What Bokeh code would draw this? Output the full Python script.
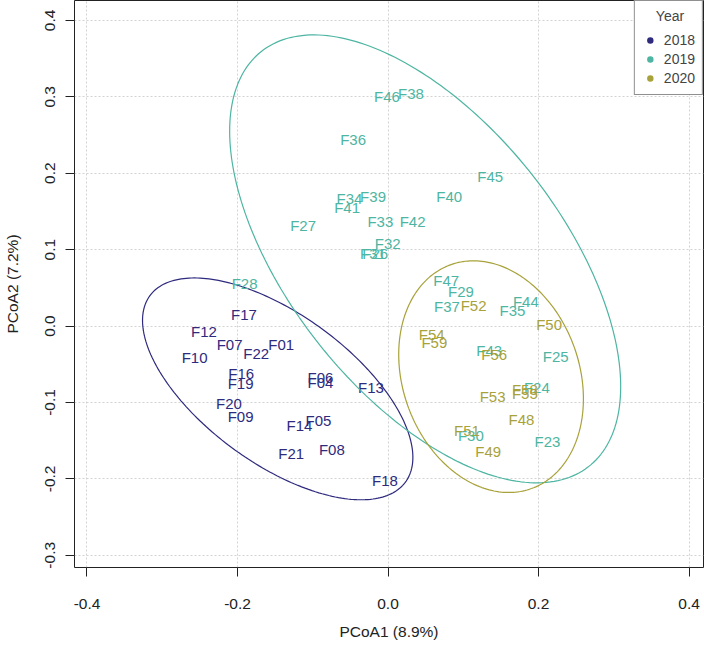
import numpy as np
from bokeh.plotting import figure
from bokeh.models import ColumnDataSource, Legend, LegendItem, Range1d, FixedTicker, PrintfTickFormatter
from bokeh.core.properties import value
from bokeh.embed import file_html
from bokeh.resources import INLINE

# ---- data (PCoA scores) ----
names_2018 = ["F17", "F12", "F07", "F22", "F01", "F10", "F16", "F19", "F06", "F04",
              "F13", "F20", "F09", "F14", "F05", "F21", "F08", "F18"]
x_2018 = [-0.1915, -0.2446, -0.2105, -0.1751, -0.1420, -0.2570, -0.1950, -0.1959, -0.0898, -0.0898,
          -0.0226, -0.2114, -0.1959, -0.1177, -0.0925, -0.1287, -0.0747, -0.0040]
y_2018 = [0.0153, -0.0074, -0.0239, -0.0361, -0.0239, -0.0413, -0.0622, -0.0753, -0.0674, -0.0744,
          -0.0805, -0.1014, -0.1179, -0.1301, -0.1240, -0.1667, -0.1615, -0.2015]

names_2019 = ["F28", "F46", "F38", "F36", "F45", "F34", "F39", "F41", "F40", "F27",
              "F33", "F42", "F32", "F31", "F26", "F47", "F29", "F37", "F44", "F35",
              "F43", "F25", "F24", "F30", "F23"]
x_2019 = [-0.1906, -0.0013, 0.0305, -0.0464, 0.1357, -0.0513, -0.0199, -0.0544, 0.0814, -0.1128,
          -0.0102, 0.0327, -0.0004, -0.0200, -0.0170, 0.0774, 0.0969, 0.0783, 0.1831, 0.1654,
          0.1344, 0.2229, 0.1977, 0.1101, 0.2119]
y_2019 = [0.0557, 0.2998, 0.3042, 0.2437, 0.1954, 0.1675, 0.1693, 0.1553, 0.1693, 0.1319,
          0.1362, 0.1371, 0.1075, 0.0950, 0.0945, 0.0596, 0.0448, 0.0261, 0.0317, 0.0205,
          -0.0318, -0.0405, -0.0805, -0.1436, -0.1514]

names_2020 = ["F52", "F50", "F54", "F59", "F56", "F58", "F55", "F53", "F48", "F51", "F49"]
x_2020 = [0.1137, 0.2140, 0.0580, 0.0615, 0.1411, 0.1818, 0.1818, 0.1389, 0.1774, 0.1048, 0.1331]
y_2020 = [0.0270, 0.0022, -0.0109, -0.0218, -0.0379, -0.0835, -0.0884, -0.0927, -0.1218, -0.1362, -0.1645]

years = ["2018", "2019", "2020"]
colors = ["#2E2A7E", "#4DB5A2", "#A8A23A"]

x_ticks = [-0.4, -0.2, 0.0, 0.2, 0.4]
y_ticks = [-0.3, -0.2, -0.1, 0.0, 0.1, 0.2, 0.3, 0.4]

groups = {
    "2018": (names_2018, x_2018, y_2018),
    "2019": (names_2019, x_2019, y_2019),
    "2020": (names_2020, x_2020, y_2020),
}


def sd_ellipse(xs, ys, conf=0.95, n=240):
    """Covariance ellipse (like vegan::ordiellipse kind='sd')."""
    xs = np.asarray(xs, float)
    ys = np.asarray(ys, float)
    cov = np.cov(xs, ys)
    vals, vecs = np.linalg.eigh(cov)
    scale = np.sqrt(-2.0 * np.log(1.0 - conf))  # sqrt(qchisq(conf, 2))
    t = np.linspace(0, 2 * np.pi, n)
    circ = np.vstack([np.cos(t), np.sin(t)])
    pts = vecs @ (np.sqrt(vals)[:, None] * circ) * scale
    return pts[0] + xs.mean(), pts[1] + ys.mean()


FONT = "Liberation Sans"

p = figure(width=704, height=650, output_backend="svg", toolbar_location=None,
           x_range=Range1d(-0.4166, 0.4192), y_range=Range1d(-0.316, 0.426),
           min_border_left=73, min_border_right=1, min_border_top=0, min_border_bottom=83,
           x_axis_label="PCoA1 (8.9%)", y_axis_label="PCoA2 (7.2%)")

p.background_fill_color = "white"
p.border_fill_color = "white"
p.outline_line_color = "#222222"
p.outline_line_width = 1

for ax in (p.xaxis[0], p.yaxis[0]):
    ax.axis_line_color = None
    ax.major_tick_line_color = "#222222"
    ax.major_tick_out = 9
    ax.major_tick_in = 0
    ax.minor_tick_line_color = None
    ax.formatter = PrintfTickFormatter(format="%.1f")
    ax.major_label_text_font = FONT
    ax.major_label_text_font_size = "15.5px"
    ax.major_label_text_color = "#222222"
    ax.axis_label_text_font = FONT
    ax.axis_label_text_font_size = "15.5px"
    ax.axis_label_text_font_style = "normal"
    ax.axis_label_text_color = "#222222"

p.xaxis[0].ticker = FixedTicker(ticks=x_ticks)
p.yaxis[0].ticker = FixedTicker(ticks=y_ticks)
p.xaxis[0].major_label_standoff = 22
p.xaxis[0].axis_label_standoff = 11
p.yaxis[0].major_label_standoff = 10
p.yaxis[0].axis_label_standoff = 22
p.yaxis[0].major_label_orientation = "vertical"

for g in (p.xgrid[0], p.ygrid[0]):
    g.grid_line_color = "#D3D3D3"
    g.grid_line_dash = "2 2"
    g.grid_line_width = 1
p.xgrid[0].ticker = FixedTicker(ticks=x_ticks)
p.ygrid[0].ticker = FixedTicker(ticks=y_ticks)

legend_items = []
for year, col in zip(years, colors):
    names, xs, ys = groups[year]
    ex, ey = sd_ellipse(xs, ys)
    p.line(ex, ey, line_color=col, line_width=1.2)
    src = ColumnDataSource(dict(x=xs, y=ys, name=names))
    p.text(x="x", y="y", text="name", source=src, text_color=col,
           text_font=value(FONT), text_font_size="15px",
           text_align="center", text_baseline="middle")
    # zero-size markers at the points: invisible in the plot, give the legend its dot
    dots = p.scatter(x="x", y="y", source=src, size=0, fill_color=col,
                     line_color=None, marker="circle")
    legend_items.append(LegendItem(label=year, renderers=[dots]))

legend = Legend(items=legend_items, location="top_right", title="\u2002\u2002Year",
                margin=0, padding=7, spacing=1, title_standoff=7,
                glyph_width=16, glyph_height=18, label_height=18,
                label_standoff=6,
                label_text_font=FONT, label_text_font_size="14px",
                title_text_font=FONT, title_text_font_size="14px",
                title_text_font_style="normal",
                border_line_color="#222222", border_line_width=1,
                background_fill_color="white", background_fill_alpha=1.0)
p.add_layout(legend)

open("out.html", "w").write(file_html(p, INLINE))
